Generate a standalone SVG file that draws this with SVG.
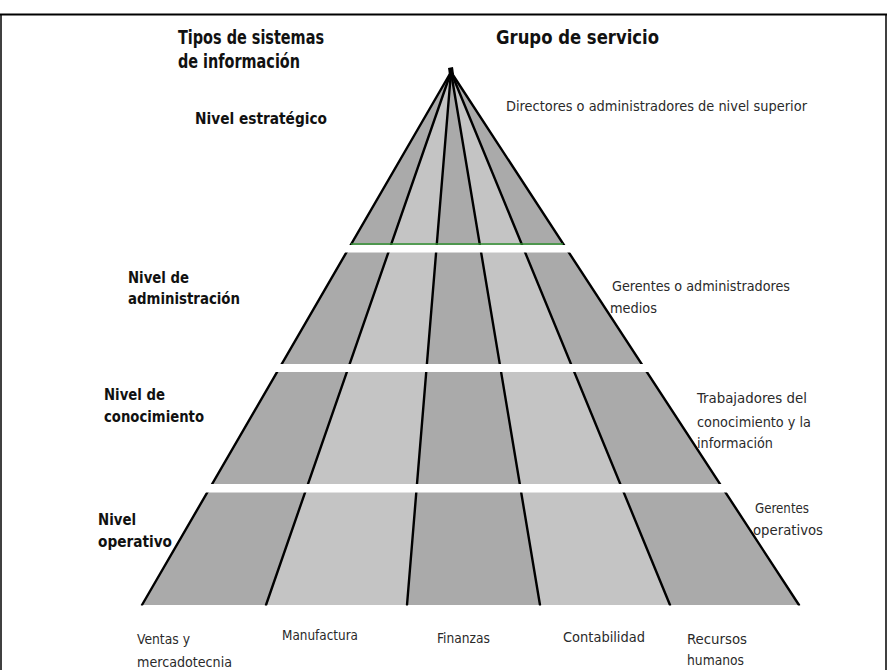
<svg xmlns="http://www.w3.org/2000/svg" width="887" height="670" viewBox="0 0 887 670">
<style>
.h{font-family:"Liberation Sans Narrow","DejaVu Sans Condensed","Liberation Sans",sans-serif;font-weight:bold;font-size:19px;fill:#111}
.lv{font-family:"Liberation Sans Narrow","DejaVu Sans Condensed","Liberation Sans",sans-serif;font-weight:bold;font-size:15px;fill:#111}
.t{font-family:"Liberation Sans Narrow","DejaVu Sans Condensed","Liberation Sans",sans-serif;font-size:14px;fill:#2a2a2a}
.dk{fill:#aaaaaa}
.lt{fill:#c4c4c4}
.ln{stroke:#000;stroke-width:2.4;fill:none;stroke-linecap:round}
</style>
<rect width="887" height="670" fill="#fff"/>
<g id="frame" stroke="#000" stroke-width="2.2">
<line x1="0" y1="14.5" x2="887" y2="14.5"/>
<line x1="1" y1="14" x2="1" y2="670" stroke-width="1.5"/>
<line x1="886" y1="14" x2="886" y2="670" stroke-width="1.5"/>
</g>
<g id="pyramid">
<polygon class="dk" points="451,72 142,605 266,605"/>
<polygon class="lt" points="451,72 266,605 407,605"/>
<polygon class="dk" points="451,72 407,605 540,605"/>
<polygon class="lt" points="451,72 540,605 670,605"/>
<polygon class="dk" points="451,72 670,605 799,605"/>
</g>
<g id="connectors">
<line class="ln" x1="451" y1="72" x2="142" y2="605"/>
<line class="ln" x1="451" y1="72" x2="266" y2="605"/>
<line class="ln" x1="451" y1="72" x2="407" y2="605"/>
<line class="ln" x1="451" y1="72" x2="540" y2="605"/>
<line class="ln" x1="451" y1="72" x2="670" y2="605"/>
<line class="ln" x1="451" y1="72" x2="799" y2="605"/>
<path d="M448,68 L453,67 L454,74 L449,75 Z" fill="#000"/>
</g>
<g id="gaps" fill="#fff">
<rect x="100" y="245" width="740" height="7.5"/>
<rect x="100" y="364" width="740" height="8"/>
<rect x="100" y="484" width="740" height="8.5"/>
<rect x="100" y="605.5" width="740" height="4"/>
</g>
<line id="green-base" x1="351" y1="244" x2="563" y2="244" stroke="#2f8f2f" stroke-width="1.6"/>
<g id="headers">
<text class="h" x="178" y="44" textLength="146" lengthAdjust="spacingAndGlyphs">Tipos de sistemas</text>
<text class="h" x="178" y="68" textLength="122" lengthAdjust="spacingAndGlyphs">de información</text>
<text class="h" x="496" y="44" textLength="163" lengthAdjust="spacingAndGlyphs">Grupo de servicio</text>
</g>
<g id="level-estrategico">
<text class="lv" x="195" y="124" textLength="132" lengthAdjust="spacingAndGlyphs">Nivel estratégico</text>
<text class="t" x="506" y="111" textLength="301" lengthAdjust="spacingAndGlyphs">Directores o administradores de nivel superior</text>
</g>
<g id="level-administracion">
<text class="lv" x="128" y="283" textLength="61" lengthAdjust="spacingAndGlyphs">Nivel de</text>
<text class="lv" x="128" y="304" textLength="112" lengthAdjust="spacingAndGlyphs">administración</text>
<text class="t" x="612" y="291" textLength="178" lengthAdjust="spacingAndGlyphs">Gerentes o administradores</text>
<text class="t" x="610" y="313" textLength="47" lengthAdjust="spacingAndGlyphs">medios</text>
</g>
<g id="level-conocimiento">
<text class="lv" x="104" y="400" textLength="61" lengthAdjust="spacingAndGlyphs">Nivel de</text>
<text class="lv" x="104" y="422" textLength="100" lengthAdjust="spacingAndGlyphs">conocimiento</text>
<text class="t" x="697" y="403" textLength="110" lengthAdjust="spacingAndGlyphs">Trabajadores del</text>
<text class="t" x="697" y="427" textLength="114" lengthAdjust="spacingAndGlyphs">conocimiento y la</text>
<text class="t" x="697" y="448" textLength="76" lengthAdjust="spacingAndGlyphs">información</text>
</g>
<g id="level-operativo">
<text class="lv" x="98" y="525" textLength="38" lengthAdjust="spacingAndGlyphs">Nivel</text>
<text class="lv" x="98" y="547" textLength="74" lengthAdjust="spacingAndGlyphs">operativo</text>
<text class="t" x="755" y="513" textLength="54" lengthAdjust="spacingAndGlyphs">Gerentes</text>
<text class="t" x="753" y="535" textLength="70" lengthAdjust="spacingAndGlyphs">operativos</text>
</g>
<g id="areas">
<text class="t" x="137" y="644" textLength="53" lengthAdjust="spacingAndGlyphs">Ventas y</text>
<text class="t" x="137" y="667" textLength="95" lengthAdjust="spacingAndGlyphs">mercadotecnia</text>
<text class="t" x="282" y="640" textLength="76" lengthAdjust="spacingAndGlyphs">Manufactura</text>
<text class="t" x="437" y="643" textLength="53" lengthAdjust="spacingAndGlyphs">Finanzas</text>
<text class="t" x="563" y="642" textLength="82" lengthAdjust="spacingAndGlyphs">Contabilidad</text>
<text class="t" x="687" y="644" textLength="60" lengthAdjust="spacingAndGlyphs">Recursos</text>
<text class="t" x="687" y="665" textLength="57" lengthAdjust="spacingAndGlyphs">humanos</text>
</g>
</svg>
